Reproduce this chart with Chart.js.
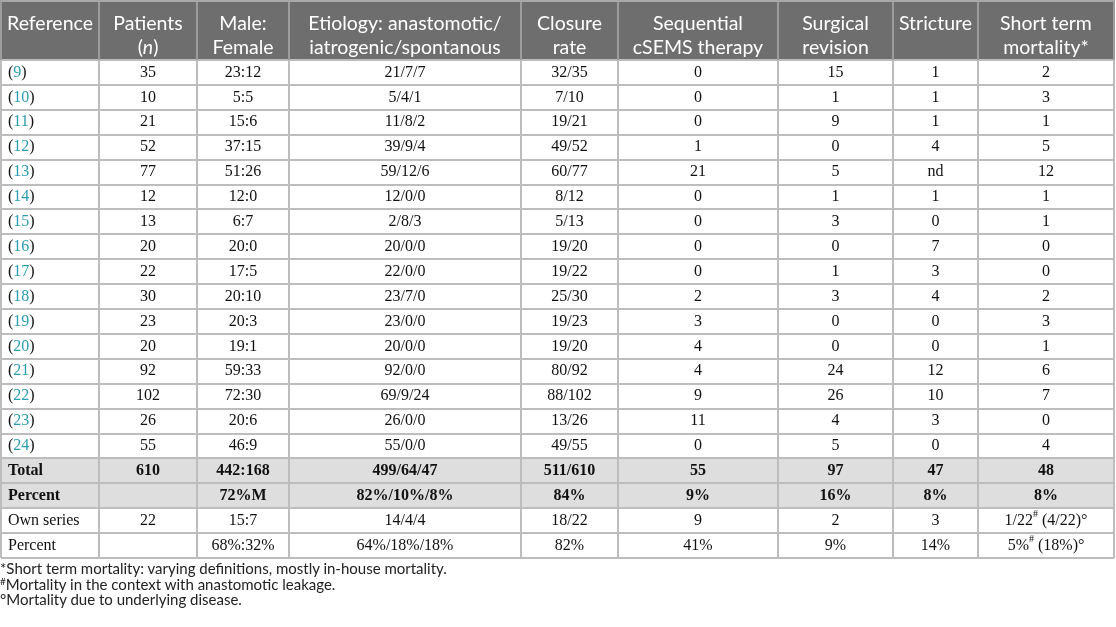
<!DOCTYPE html>
<html>
<head>
<meta charset="utf-8">
<script src="https://cdn.jsdelivr.net/npm/chart.js@4"></script>
<style>
  html, body { margin: 0; padding: 0; background: #fff; }
  #wrap { width: 1116px; height: 560px; }
  .notes { font-family: Lato, "Open Sans", sans-serif; font-size: 15px; color: #222; margin: 1px 0 0 0; line-height: 15.5px; }
  .notes p { margin: 0; }
  .notes sup { font-size: 10px; line-height: 0; vertical-align: 5px; }
</style>
</head>
<body>
<div id="wrap"><canvas id="tableChart" width="1116" height="560"></canvas></div>
<div class="notes">
  <p>*Short term mortality: varying definitions, mostly in-house mortality.</p>
  <p><sup>#</sup>Mortality in the context with anastomotic leakage.</p>
  <p>°Mortality due to underlying disease.</p>
</div>
<script>
// column headers (line breaks with \n, _x_ = italic)
const headers = ["Reference", "Patients\n(_n_)", "Male:\nFemale", "Etiology: anastomotic/\niatrogenic/spontanous",
  "Closure\nrate", "Sequential\ncSEMS therapy", "Surgical\nrevision", "Stricture", "Short term\nmortality*"];

// one entry per study
const refs = ["9", "10", "11", "12", "13", "14", "15", "16", "17", "18", "19", "20", "21", "22", "23", "24"];
const patients = [35, 10, 21, 52, 77, 12, 13, 20, 22, 30, 23, 20, 92, 102, 26, 55];
const maleFemale = ["23:12", "5:5", "15:6", "37:15", "51:26", "12:0", "6:7", "20:0", "17:5", "20:10", "20:3", "19:1", "59:33", "72:30", "20:6", "46:9"];
const etiology = ["21/7/7", "5/4/1", "11/8/2", "39/9/4", "59/12/6", "12/0/0", "2/8/3", "20/0/0", "22/0/0", "23/7/0", "23/0/0", "20/0/0", "92/0/0", "69/9/24", "26/0/0", "55/0/0"];
const closureRate = ["32/35", "7/10", "19/21", "49/52", "60/77", "8/12", "5/13", "19/20", "19/22", "25/30", "19/23", "19/20", "80/92", "88/102", "13/26", "49/55"];
const cSEMS = [0, 0, 0, 1, 21, 0, 0, 0, 0, 2, 3, 4, 4, 9, 11, 0];
const revision = [15, 1, 9, 0, 5, 1, 3, 0, 1, 3, 0, 0, 24, 26, 4, 5];
const stricture = ["1", "1", "1", "4", "nd", "1", "0", "7", "3", "4", "0", "0", "12", "10", "3", "0"];
const mortality = [2, 3, 1, 5, 12, 1, 1, 0, 0, 2, 3, 1, 6, 7, 0, 4];

// summary rows (^x = superscript)
const totalRow = ["Total", "610", "442:168", "499/64/47", "511/610", "55", "97", "47", "48"];
const totalPct = ["Percent", "", "72%M", "82%/10%/8%", "84%", "9%", "16%", "8%", "8%"];
const ownRow = ["Own series", "22", "15:7", "14/4/4", "18/22", "9", "2", "3", "1/22^# (4/22)°"];
const ownPct = ["Percent", "", "68%:32%", "64%/18%/18%", "82%", "41%", "9%", "14%", "5%^# (18%)°"];

// layout
const colEdges = [1, 99, 197, 289, 521, 618, 778, 893, 978, 1114];
const headerH = 60;
const rowH = 24.9;
const boldRows = [16, 17];

const rows = refs.map((r, i) => ["([" + r + "])", String(patients[i]), maleFemale[i], etiology[i], closureRate[i],
  String(cSEMS[i]), String(revision[i]), stricture[i], String(mortality[i])]);
rows.push(totalRow, totalPct, ownRow, ownPct);

function parseRich(text) {
  return text.split(/(\^.|_[^_]+_|\[[^\]]+\])/).filter(s => s !== "").map(s => {
    if (s[0] === "^") return { text: s.slice(1), sup: true };
    if (s[0] === "_" && s.length > 2) return { text: s.slice(1, -1), italic: true };
    if (s[0] === "[") return { text: s.slice(1, -1), color: "#2a9db0" };
    return { text: s };
  });
}

// font = { family, weight, size, sup }
function drawRich(ctx, text, x, y, align, font, color) {
  const segs = parseRich(text);
  const fontFor = s => (s.italic ? "italic " : "") + font.weight + " " + (s.sup ? font.sup : font.size) + "px " + font.family;
  let w = 0;
  segs.forEach(s => { ctx.font = fontFor(s); s.w = ctx.measureText(s.text).width; w += s.w; });
  let cx = align === "left" ? x : x - w / 2;
  segs.forEach(s => {
    ctx.font = fontFor(s);
    ctx.fillStyle = s.color || color;
    ctx.fillText(s.text, cx, s.sup ? y - 6 : y);
    cx += s.w;
  });
}

// one scatter dataset per column, each point is a cell anchored at its column centre / row centre
const datasets = headers.map((h, c) => ({
  label: h.replace("\n", " "),
  data: rows.map((row, r) => ({
    x: c === 0 ? colEdges[0] + 7 : (colEdges[c] + colEdges[c + 1]) / 2,
    y: headerH + (r + 0.5) * rowH,
    cell: row[c], row: r
  })),
  pointRadius: 0,
  pointHoverRadius: 0
}));

const tablePlugin = {
  id: "tablePlugin",
  beforeDatasetsDraw(chart) {
    const { ctx, scales: { x, y } } = chart;
    const L = x.getPixelForValue(colEdges[0]), R = x.getPixelForValue(colEdges[colEdges.length - 1]);
    const top = y.getPixelForValue(0), hb = y.getPixelForValue(headerH);
    const rowTop = r => y.getPixelForValue(headerH + r * rowH);
    ctx.save();
    ctx.fillStyle = "#6e6e6f";
    ctx.fillRect(L, top, R - L, hb - top);
    ctx.fillStyle = "#dedede";
    boldRows.forEach(r => ctx.fillRect(L, rowTop(r), R - L, rowTop(r + 1) - rowTop(r)));
    ctx.lineWidth = 2;
    // horizontal lines
    ctx.strokeStyle = "#bdbdbd";
    for (let r = 0; r <= rows.length; r++) {
      const yy = Math.round(rowTop(r));
      ctx.beginPath(); ctx.moveTo(L, yy); ctx.lineTo(R, yy); ctx.stroke();
    }
    // vertical lines
    colEdges.forEach(e => {
      const xx = Math.round(x.getPixelForValue(e));
      ctx.strokeStyle = "#9c9c9c";
      ctx.beginPath(); ctx.moveTo(xx, top); ctx.lineTo(xx, hb); ctx.stroke();
      ctx.strokeStyle = "#bdbdbd";
      ctx.beginPath(); ctx.moveTo(xx, hb); ctx.lineTo(xx, rowTop(rows.length)); ctx.stroke();
    });
    ctx.strokeStyle = "#a8a8a8";
    ctx.beginPath(); ctx.moveTo(L, top + 1); ctx.lineTo(R, top + 1); ctx.stroke();
    // header text
    ctx.textBaseline = "middle";
    const hFont = { family: "Lato, \"Open Sans\", sans-serif", weight: "400", size: 19.5, sup: 12 };
    headers.forEach((h, c) => {
      const cx = (x.getPixelForValue(colEdges[c]) + x.getPixelForValue(colEdges[c + 1])) / 2;
      h.split("\n").forEach((line, k) => {
        drawRich(ctx, line, cx, y.getPixelForValue(24 + k * 24), "center", hFont, "#ffffff");
      });
    });
    ctx.restore();
  },
  afterDatasetsDraw(chart) {
    const { ctx } = chart;
    ctx.save();
    ctx.textBaseline = "middle";
    chart.data.datasets.forEach((ds, c) => {
      const meta = chart.getDatasetMeta(c);
      meta.data.forEach((pt, i) => {
        const d = ds.data[i];
        if (!d.cell) return;
        const font = {
          family: "\"Liberation Serif\", \"Times New Roman\", serif",
          weight: boldRows.includes(d.row) ? "bold" : "400", size: 16, sup: 10
        };
        drawRich(ctx, d.cell, pt.x, pt.y, c === 0 ? "left" : "center", font, "#111111");
      });
    });
    ctx.restore();
  }
};

new Chart("tableChart", {
  type: "scatter",
  data: { datasets: datasets },
  options: {
    responsive: false,
    animation: false,
    events: [],
    layout: { padding: 0 },
    plugins: { legend: { display: false }, tooltip: { enabled: false } },
    scales: {
      x: { type: "linear", display: false, min: 0, max: 1116 },
      y: { type: "linear", display: false, min: 0, max: 560, reverse: true }
    }
  },
  plugins: [tablePlugin]
});
</script>
</body>
</html>
